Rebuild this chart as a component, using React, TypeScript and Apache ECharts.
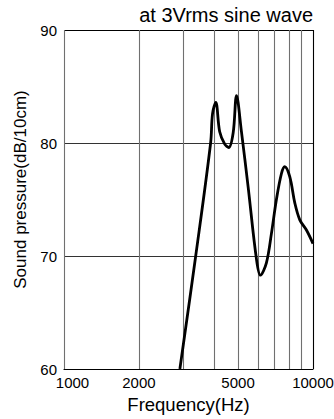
import React, { useEffect, useRef } from "react";
import * as echarts from "echarts";

// Frequency response
const freqHz = [2920, 3380, 3880, 3950, 4070, 4220, 4420, 4590, 4780, 4930, 5160, 5490, 5930, 6150, 6500, 6810, 7130, 7470, 7700, 8070, 8450, 8850, 9410, 10000];
const splDb = [60, 70, 80, 82.6, 83.6, 81.0, 79.9, 79.6, 80.9, 84.2, 81.0, 76.1, 69.7, 68.3, 69.4, 72, 75, 77.3, 77.9, 77, 74.7, 73.2, 72.3, 71.1];

const gridFreqs = [1000, 2000, 3000, 4000, 5000, 6000, 7000, 8000, 9000, 10000];
const xLabelFreqs = [1000, 2000, 5000, 10000];
const yMin = 60;
const yMax = 90;
const yStep = 10;

const titleText = "at 3Vrms sine wave";
const xName = "Frequency(Hz)";
const yName = "Sound pressure(dB/10cm)";

const FONT = "'Liberation Sans', Arial, Helvetica, sans-serif";

export default function App() {
  const ref = useRef<HTMLDivElement>(null);

  useEffect(() => {
    if (!ref.current) return;
    const chart = echarts.init(ref.current, null, { renderer: "svg" });
    const xSplitColors = gridFreqs.map((f, i) => (i === gridFreqs.length - 1 ? "#000" : "#707070"));
    chart.setOption({
      animation: false,
      backgroundColor: "#fff",
      title: {
        text: titleText,
        right: 21,
        top: 5,
        padding: 0,
        textStyle: { fontFamily: FONT, fontSize: 20, fontWeight: "normal", color: "#000" },
      },
      grid: { left: 64, right: 21, top: 30, bottom: 50, outerBoundsMode: "none", containLabel: false },
      xAxis: {
        type: "log",
        logBase: 10,
        min: 1000,
        max: 10000,
        name: xName,
        nameLocation: "middle",
        nameGap: 25,
        nameTextStyle: { fontFamily: FONT, fontSize: 18.5, color: "#000" },
        axisLine: { show: true, onZero: false, lineStyle: { color: "#000", width: 1.2 } },
        axisTick: { show: false, customValues: gridFreqs },
        minorTick: { show: false },
        axisLabel: {
          customValues: xLabelFreqs,
          margin: 6,
          fontFamily: FONT,
          fontSize: 15,
          color: "#000",
          hideOverlap: false,
          formatter: (v: number) => (Math.round(v) === xLabelFreqs[0] ? `{a|${Math.round(v)}}` : String(Math.round(v))),
          rich: { a: { fontFamily: FONT, fontSize: 15, color: "#000", padding: [0, 0, 0, 17] } },
        },
        splitLine: { show: true, lineStyle: { color: xSplitColors, width: 1.1 } },
      },
      yAxis: {
        type: "value",
        min: yMin,
        max: yMax,
        interval: yStep,
        name: yName,
        nameLocation: "middle",
        nameGap: 31,
        nameTextStyle: { fontFamily: FONT, fontSize: 17, color: "#000", padding: [0, 0, 0, 20] },
        axisLine: { show: false },
        axisTick: { show: false },
        axisLabel: { margin: 7, fontFamily: FONT, fontSize: 15, color: "#000" },
        splitLine: { show: true, lineStyle: { color: ["#000", "#333", "#333", "#000"], width: 1.1 } },
      },
      series: [
        {
          type: "line",
          data: freqHz.map((f, i) => [f, splDb[i]]),
          showSymbol: false,
          smooth: 0.35,
          clip: true,
          lineStyle: { color: "#000", width: 2.8 },
        },
      ],
    });
    return () => chart.dispose();
  }, []);

  return <div ref={ref} style={{ position: "fixed", left: 0, top: 0, width: 334, height: 419 }} />;
}
